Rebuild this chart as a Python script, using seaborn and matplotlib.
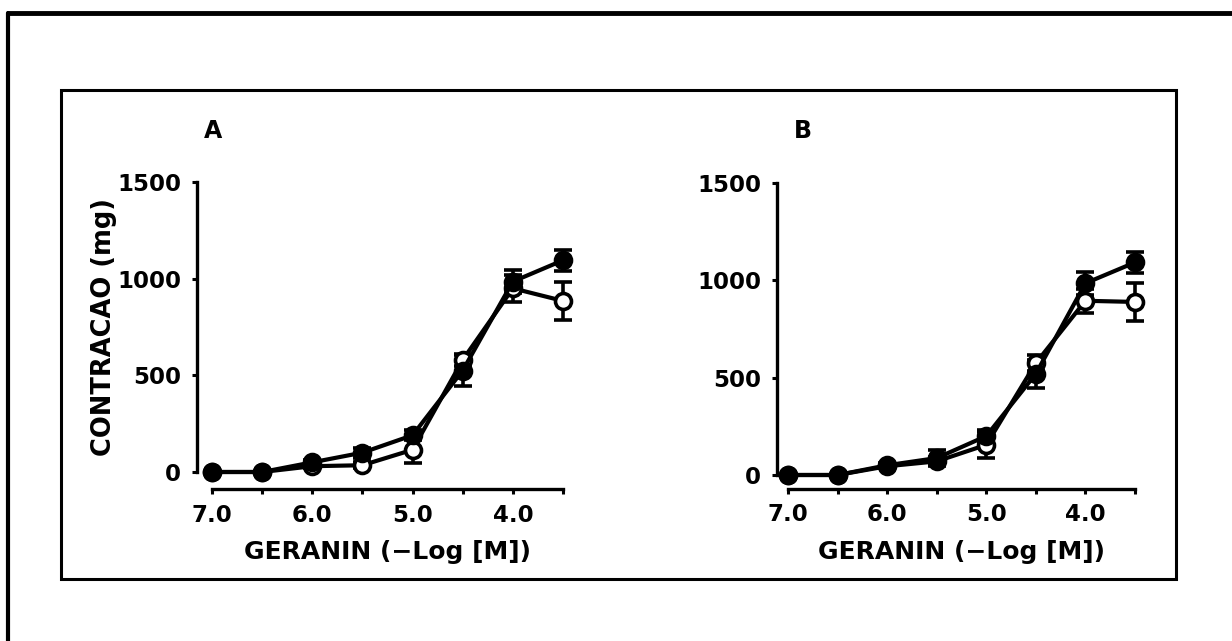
import matplotlib
matplotlib.use("Agg")
import matplotlib.pyplot as plt
from matplotlib.lines import Line2D
from matplotlib.patches import Rectangle
import numpy as np
import pandas as pd
import seaborn as sns

# Geranin concentration (-log M)
dose = [7.0, 6.5, 6.0, 5.5, 5.0, 4.5, 4.0, 3.5]
dose_ticks = [7.0, 6.5, 6.0, 5.5, 5.0, 4.5, 4.0, 3.5]
dose_labels = ["7.0", "", "6.0", "", "5.0", "", "4.0", ""]
y_ticks = [0, 500, 1000, 1500]

# Panel A: contraction (mg), mean and SEM
a_filled = [0, 0, 50, 100, 190, 525, 985, 1095]
a_filled_sem = [0, 0, 10, 25, 27, 80, 60, 55]
a_open = [0, 0, 30, 35, 115, 580, 950, 885]
a_open_sem = [0, 0, 8, 15, 68, 30, 70, 100]

# Panel B: contraction (mg), mean and SEM
b_filled = [0, 0, 50, 87, 200, 520, 985, 1092]
b_filled_sem = [0, 0, 10, 40, 30, 72, 58, 55]
b_open = [0, 0, 45, 70, 155, 575, 895, 889]
b_open_sem = [0, 0, 8, 20, 68, 40, 62, 98]

sns.set_theme(style="ticks")
plt.rcParams["font.family"] = ["DejaVu Sans"]
plt.rcParams["font.weight"] = "bold"
plt.rcParams["text.color"] = "black"
plt.rcParams["axes.labelcolor"] = "black"
plt.rcParams["xtick.color"] = "black"
plt.rcParams["ytick.color"] = "black"

W, H = 1232, 641
fig = plt.figure(figsize=(W / 100, H / 100), dpi=100)
fig.patch.set_facecolor("white")


def px_axes(left, right, top, bottom):
    return fig.add_axes([left / W, 1 - bottom / H, (right - left) / W, (bottom - top) / H])


def draw_panel(ax, filled, filled_sem, opened, opened_sem, left_off, bottom_off):
    series = [
        ("open", opened, opened_sem, "white"),
        ("filled", filled, filled_sem, "black"),
    ]
    for name, vals, sem, face in series:
        df = pd.DataFrame({"dose": dose, "mg": vals, "sem": sem})
        sns.lineplot(data=df, x="dose", y="mg", ax=ax, color="black", lw=3,
                     marker="o", markersize=11.5, markerfacecolor=face,
                     markeredgecolor="black", markeredgewidth=2.6,
                     clip_on=False, zorder=3, sort=False)
        nz = df[df["sem"] > 0]
        ax.errorbar(nz["dose"], nz["mg"], yerr=nz["sem"], fmt="none",
                    ecolor="black", elinewidth=2.6, capsize=6.5, capthick=2.6,
                    clip_on=False, zorder=2)

    ax.set_xlim(7.0, 3.5)
    ax.set_ylim(0, 1500)
    ax.set_xticks(dose_ticks)
    ax.set_xticklabels(dose_labels)
    ax.set_yticks(y_ticks)
    ax.set_yticklabels([str(t) for t in y_ticks])
    for s in ["top", "right"]:
        ax.spines[s].set_visible(False)
    ax.spines["left"].set_position(("outward", left_off))
    ax.spines["bottom"].set_position(("outward", bottom_off))
    for s in ["left", "bottom"]:
        ax.spines[s].set_linewidth(2.4)
        ax.spines[s].set_color("black")
    ax.tick_params(axis="both", direction="out", length=3.5, width=2.2,
                   colors="black", labelsize=16.5)
    ax.tick_params(axis="y", pad=8)
    ax.tick_params(axis="x", pad=7)
    for lab in ax.get_xticklabels() + ax.get_yticklabels():
        lab.set_fontweight("bold")
    ax.set_xlabel("GERANIN (\u2212Log [M])", fontsize=18, fontweight="bold",
                  labelpad=10, color="black")
    ax.set_ylabel("")
    ax.set_facecolor("white")
    ax.grid(False)


ax_a = px_axes(212, 563, 182, 472)
draw_panel(ax_a, a_filled, a_filled_sem, a_open, a_open_sem, 10.8, 12.2)
ax_a.set_ylabel("CONTRACAO (mg)", fontsize=18.5, fontweight="bold", labelpad=0,
                color="black")

ax_b = px_axes(788, 1135, 183, 475)
draw_panel(ax_b, b_filled, b_filled_sem, b_open, b_open_sem, 8.0, 10.0)

# panel letters
fig.text(213 / W, 1 - 131 / H, "A", fontsize=17, fontweight="bold",
         ha="center", va="center", color="black")
fig.text(803 / W, 1 - 131 / H, "B", fontsize=17, fontweight="bold",
         ha="center", va="center", color="black")

# inner frame around both panels
fig.add_artist(Rectangle((61 / W, 1 - 579 / H), (1176 - 61) / W, (579 - 90) / H,
                         transform=fig.transFigure, fill=False, lw=2.2, ec="black"))
# outer page frame
fig.add_artist(Line2D([8 / W, 8 / W], [0, 1 - 13 / H], transform=fig.transFigure,
                      lw=3, color="black"))
fig.add_artist(Line2D([8 / W, 1], [1 - 13 / H, 1 - 13 / H], transform=fig.transFigure,
                      lw=3.5, color="black"))

fig.savefig("out.png", dpi=100, facecolor="white")
